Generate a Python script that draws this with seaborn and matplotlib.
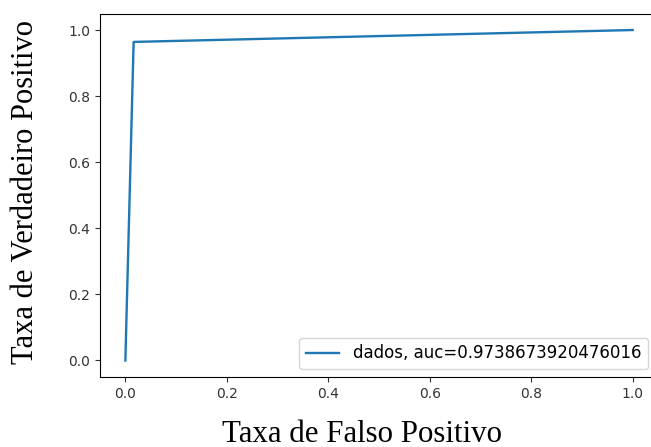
import matplotlib
matplotlib.use("Agg")
import matplotlib.pyplot as plt
import seaborn as sns

# ROC curve points
fpr = [0.0, 0.0163, 1.0]
tpr = [0.0, 0.9640, 1.0]
auc = 0.9738673920476016
label = "dados, auc=" + str(auc)

fig = plt.figure(figsize=(6.51, 4.47), dpi=100)
ax = fig.add_axes([100 / 651, 70 / 447, 558 / 651, 363.5 / 447])

sns.lineplot(x=fpr, y=tpr, ax=ax, label=label, color="#1f77b4",
             linewidth=1.7, estimator=None, sort=False)

ax.set_xlim(-0.05, 1.05)
ax.set_ylim(-0.05, 1.05)
ax.set_xticks([0.0, 0.2, 0.4, 0.6, 0.8, 1.0])
ax.set_yticks([0.0, 0.2, 0.4, 0.6, 0.8, 1.0])
ax.tick_params(labelsize=10, colors="#333333")
ax.spines["right"].set_visible(False)

serif = ["Liberation Serif", "DejaVu Serif"]
ax.set_xlabel("Taxa de Falso Positivo", family=serif, fontsize=22.2, va="center")
ax.set_ylabel("Taxa de Verdadeiro Positivo", family=serif, fontsize=22, va="center")
# label spots as measured on the reference (in axes fractions)
ax.xaxis.set_label_coords(262 / 558, -57 / 363.5)
ax.yaxis.set_label_coords(-74 / 558, 0.51)

ax.legend(loc="lower right", fontsize=12, borderaxespad=0,
          bbox_to_anchor=(548 / 558, 8 / 363.5))

fig.savefig("out.png", dpi=100)
